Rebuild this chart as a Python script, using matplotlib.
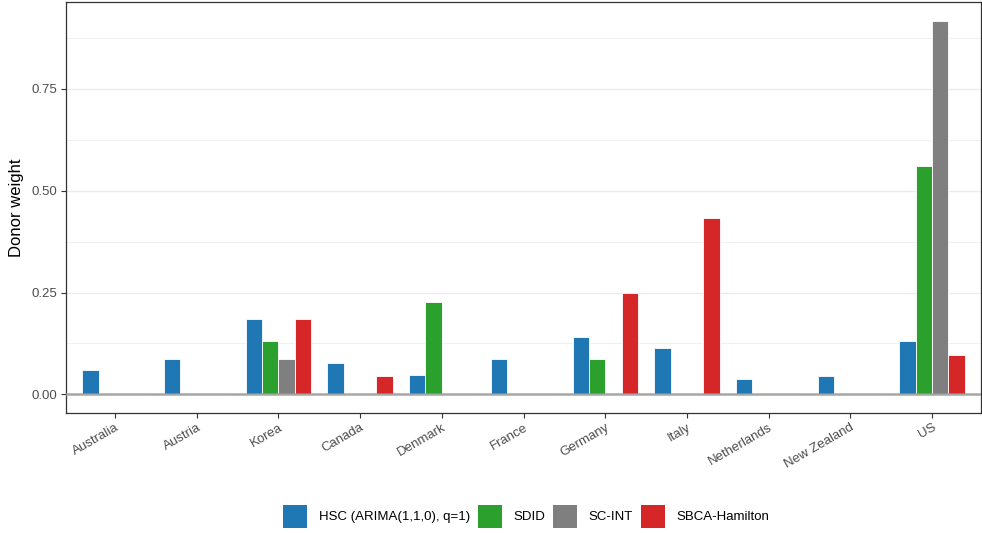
import numpy as np
import matplotlib.pyplot as plt
from matplotlib.patches import Patch

plt.rcParams['font.family'] = ['Liberation Sans', 'DejaVu Sans']

countries = ['Australia', 'Austria', 'Korea', 'Canada', 'Denmark', 'France',
             'Germany', 'Italy', 'Netherlands', 'New Zealand', 'US']
methods = ['HSC (ARIMA(1,1,0), q=1)', 'SDID', 'SC-INT', 'SBCA-Hamilton']
colors = ['#1F77B4', '#2CA02C', '#7F7F7F', '#D62728']

hsc = [0.061, 0.086, 0.186, 0.078, 0.047, 0.088, 0.140, 0.113, 0.037, 0.044, 0.132]
sdid = [0.0, 0.003, 0.132, 0.0, 0.228, 0.0, 0.086, 0.0, 0.0, 0.0, 0.561]
scint = [0.0, 0.0, 0.088, 0.0, 0.0, 0.0, 0.0, 0.0, 0.0, 0.0, 0.917]
sbca = [0.0, 0.0, 0.186, 0.044, 0.0, 0.0, 0.248, 0.434, 0.0, 0.0, 0.096]
weights = [hsc, sdid, scint, sbca]

fig = plt.figure(figsize=(9.82, 5.33), dpi=100)
ax = fig.add_axes([0.0672, 0.225, 0.9318, 0.771])

x = np.arange(len(countries))
w = 0.8 / len(methods)
for k, (vals, col) in enumerate(zip(weights, colors)):
    ax.bar(x + (k - 1.5) * w, vals, width=w, color=col, edgecolor='white',
           linewidth=0.6, zorder=2)

# reference line at zero
ax.axhline(0, color='#999999', lw=1.8, alpha=0.85, zorder=3)

ymax = max(max(v) for v in weights)
pad = 0.05 * ymax
ax.set_ylim(-pad, ymax + pad)
ax.set_xlim(-0.6, len(countries) - 0.4)

ax.set_yticks([0, 0.25, 0.5, 0.75])
ax.set_yticklabels(['0.00', '0.25', '0.50', '0.75'])
ax.set_yticks([0.125, 0.375, 0.625, 0.875], minor=True)
ax.yaxis.grid(True, which='major', color='#EBEBEB', lw=1.0, zorder=0)
ax.yaxis.grid(True, which='minor', color='#F0F0F0', lw=0.7, zorder=0)
ax.xaxis.grid(False)
ax.set_axisbelow(True)

ax.set_xticks(x)
ax.set_xticklabels(countries, rotation=30, ha='right', rotation_mode='anchor')
ax.tick_params(axis='both', which='major', labelsize=9.5, colors='#333333',
               labelcolor='#4D4D4D', length=3.5, width=0.8, pad=2.5)
ax.tick_params(axis='y', which='minor', length=0)
for s in ax.spines.values():
    s.set_color('#333333')
    s.set_linewidth(0.9)

ax.set_ylabel('Donor weight', fontsize=12, labelpad=6)

handles = [Patch(facecolor=c, edgecolor='none', label=m) for m, c in zip(methods, colors)]
fig.legend(handles=handles, loc='lower center', bbox_to_anchor=(0.536, 0.0), ncol=4,
           frameon=False, fontsize=9.5, handlelength=1.8, handleheight=2.3,
           handletextpad=0.9, columnspacing=0.6, borderaxespad=0.0)

fig.savefig('out.png', dpi=100)
